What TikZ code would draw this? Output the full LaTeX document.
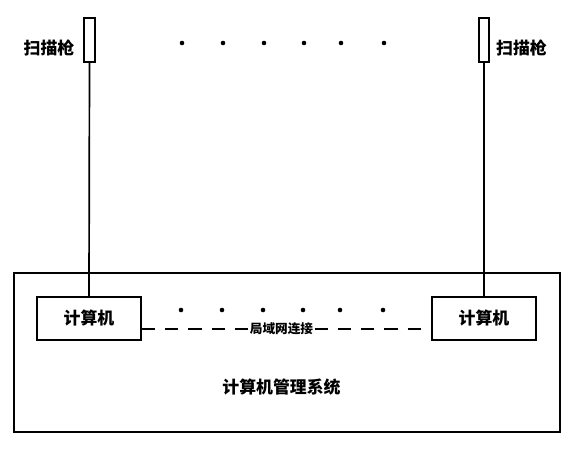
\documentclass[tikz,border=0pt]{standalone}
\usepackage{fontspec}
\newfontfamily\cjk{Noto Sans CJK SC}[BoldFont={Noto Sans CJK SC Black}]
\usetikzlibrary{calc,positioning}

\begin{document}
\begin{tikzpicture}[x=0.025cm,y=-0.025cm,every node/.style={font=\cjk\bfseries\fontsize{12}{14}\selectfont},pcbox/.style={draw,line width=1.3pt,minimum width=2.6cm,minimum height=1.075cm,inner sep=0pt},gun/.style={draw,line width=1.2pt,minimum width=0.26cm,minimum height=1.1cm,inner sep=0pt},lanline/.style={line width=1.3pt,dash pattern=on 0.33cm off 0.25cm}]
\useasboundingbox (0,0) rectangle (578,450);
\draw[line width=1.3pt] (14,273) rectangle (560,432);
\node[gun] (gunL) at (89.5,40) {};\node[gun] (gunR) at (484,40) {};
\node (lblL) at (49,48) {扫描枪};\node (lblR) at (521.5,48) {扫描枪};
\node[pcbox] (pcL) at (89,318.5) {计算机};\node[pcbox] (pcR) at (484,318.5) {计算机};
\node[font=\cjk\bfseries\fontsize{9}{11}\selectfont,inner sep=1pt] (lan) at (281.5,329) {局域网连接};
\node (sys) at (281.5,387) {计算机管理系统};
\foreach \a/\b in {gunL/pcL,gunR/pcR}{\draw[line width=1.2pt] (\a.south)--(\b.north);}
\draw[lanline] (pcL.east |- lan.west)--(lan.west);\draw[lanline] (lan.east)--(pcR.west |- lan.east);
\foreach \x in {182,223,264,304,341,384}{\fill (\x,43) circle (2.3);}
\foreach \x in {181,222,263,303,340,383}{\fill (\x,310) circle (2.3);}
\end{tikzpicture}
\end{document}
